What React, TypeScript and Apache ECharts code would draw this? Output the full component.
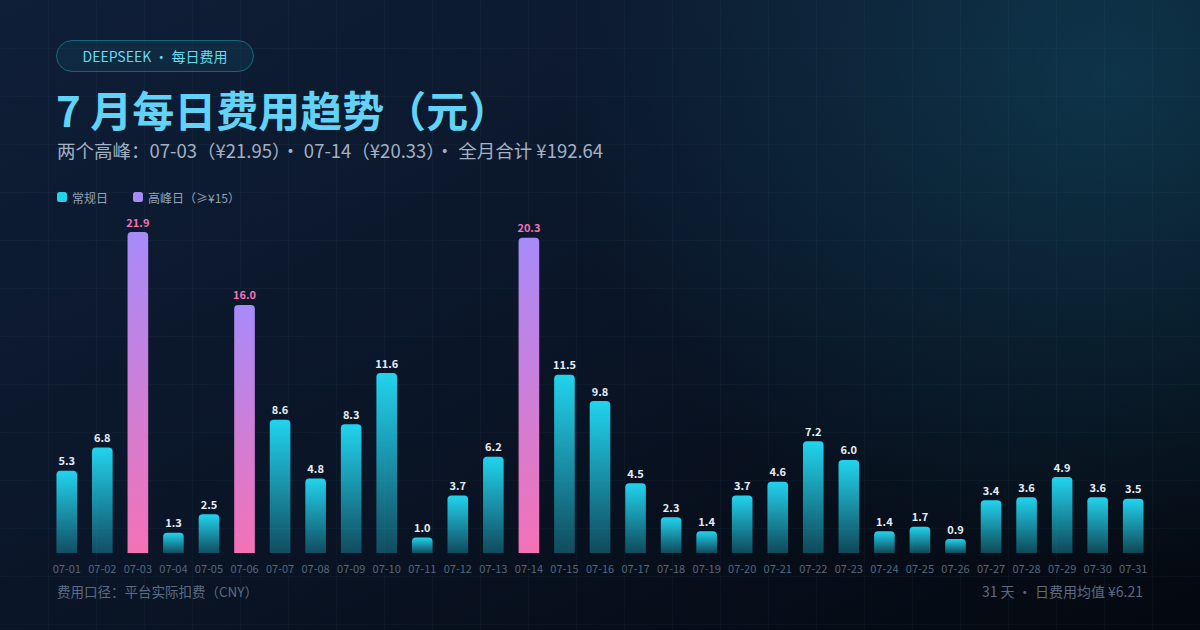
import { useEffect, useRef } from 'react';
import * as echarts from 'echarts';

const days = [
    '07-01', '07-02', '07-03', '07-04', '07-05', '07-06', '07-07', '07-08',
    '07-09', '07-10', '07-11', '07-12', '07-13', '07-14', '07-15', '07-16',
    '07-17', '07-18', '07-19', '07-20', '07-21', '07-22', '07-23', '07-24',
    '07-25', '07-26', '07-27', '07-28', '07-29', '07-30', '07-31',
];

// daily cost in CNY
const costs = [
    5.3, 6.8, 21.95, 1.3, 2.5, 16.0, 8.6, 4.8,
    8.3, 11.6, 1.0, 3.7, 6.2, 20.33, 11.5, 9.8,
    4.5, 2.3, 1.4, 3.7, 4.6, 7.2, 6.0, 1.4,
    1.7, 0.9, 3.4, 3.6, 4.9, 3.6, 3.5,
];

const peakLimit = 15;
const yMax = 20.7;

const seriesNames = ['常规日', '高峰日（≥¥15）'];
const badgeText = 'DEEPSEEK · 每日费用';
const titleText = '7 月每日费用趋势（元）';
const subtitleText = '两个高峰：07-03（¥21.95）· 07-14（¥20.33）· 全月合计 ¥192.64';
const footLeft = '费用口径：平台实际扣费（CNY）';
const footRight = '31 天 · 日费用均值 ¥6.21';

const FONT = '"Noto Sans CJK SC", "Noto Sans", sans-serif';

export default function App() {
    const chartRef = useRef<HTMLDivElement>(null);

    useEffect(() => {
        document.body.style.margin = '0';
        if (!chartRef.current) return;
        const chart = echarts.init(chartRef.current, undefined, { renderer: 'svg' });

        const normal = costs.map((v) => (v < peakLimit ? v : null));
        const peak = costs.map((v) => (v >= peakLimit ? v : null));

        // faint background grid
        const gridLines: any[] = [];
        for (let x = 48; x < 1200; x += 48) {
            gridLines.push({
                type: 'line', silent: true,
                shape: { x1: x + 0.5, y1: 0, x2: x + 0.5, y2: 630 },
                style: { stroke: 'rgba(140, 190, 230, 0.035)', lineWidth: 1 },
            });
        }
        for (let y = 48; y < 630; y += 48) {
            gridLines.push({
                type: 'line', silent: true,
                shape: { x1: 0, y1: y + 0.5, x2: 1200, y2: y + 0.5 },
                style: { stroke: 'rgba(140, 190, 230, 0.035)', lineWidth: 1 },
            });
        }

        const labelFmt = (p: any) => (p.value == null ? '' : Number(p.value).toFixed(1));

        chart.setOption({
            animation: false,
            backgroundColor: new echarts.graphic.LinearGradient(0, 0, 1, 1, [
                { offset: 0, color: '#0f1f38' },
                { offset: 0.5, color: '#0a1527' },
                { offset: 1, color: '#04080f' },
            ]),
            textStyle: { fontFamily: FONT },
            graphic: [
                {
                    type: 'rect', silent: true, z: -10,
                    shape: { x: 560, y: -420, width: 1100, height: 1000 },
                    style: {
                        fill: new echarts.graphic.RadialGradient(0.5, 0.5, 0.5, [
                            { offset: 0, color: 'rgba(20, 96, 122, 0.42)' },
                            { offset: 0.45, color: 'rgba(20, 96, 122, 0.22)' },
                            { offset: 1, color: 'rgba(20, 96, 122, 0)' },
                        ]),
                    },
                },
                { type: 'group', z: -9, silent: true, children: gridLines },
                {
                    type: 'rect',
                    shape: { x: 56.5, y: 40.5, width: 197, height: 31, r: 15.5 },
                    style: {
                        fill: 'rgba(34, 211, 238, 0.07)',
                        stroke: 'rgba(34, 211, 238, 0.38)',
                        lineWidth: 1,
                    },
                },
                {
                    type: 'text', x: 155, y: 56,
                    style: {
                        text: badgeText, fill: '#67dcef', fontSize: 14,
                        fontFamily: FONT, align: 'center', verticalAlign: 'middle',
                    },
                },
                {
                    type: 'text', x: 56, y: 108,
                    style: {
                        text: titleText, fill: '#62d2f6',
                        fontSize: 42, fontWeight: 'bold', fontFamily: FONT,
                        verticalAlign: 'middle',
                    },
                },
                {
                    type: 'text', x: 57, y: 150,
                    style: {
                        text: subtitleText, fill: '#a3b1c4', fontSize: 18.5,
                        fontFamily: FONT, verticalAlign: 'middle',
                    },
                },
                {
                    type: 'text', x: 57, y: 591,
                    style: {
                        text: footLeft, fill: '#5c6b81', fontSize: 13.5,
                        fontFamily: FONT, verticalAlign: 'middle',
                    },
                },
                {
                    type: 'text', x: 1143, y: 591,
                    style: {
                        text: footRight, fill: '#5c6b81', fontSize: 14,
                        fontFamily: FONT, align: 'right', verticalAlign: 'middle',
                    },
                },
            ],
            legend: {
                left: 52,
                top: 186,
                itemWidth: 10,
                itemHeight: 10,
                itemGap: 25,
                icon: 'roundRect',
                textStyle: { color: '#93a3b8', fontSize: 12, fontFamily: FONT },
                data: [
                    { name: seriesNames[0], itemStyle: { color: '#22d3ee' } },
                    { name: seriesNames[1], itemStyle: { color: '#a78bfa' } },
                ],
            },
            grid: { left: 49, right: 49, top: 232, bottom: 77 },
            xAxis: {
                type: 'category',
                data: days,
                axisLine: { show: false },
                axisTick: { show: false },
                axisLabel: {
                    color: '#56667d', fontSize: 11, margin: 9,
                    interval: 0, fontFamily: FONT,
                },
            },
            yAxis: {
                type: 'value',
                min: 0,
                max: yMax,
                show: false,
                splitLine: { show: false },
            },
            series: [
                {
                    name: seriesNames[0],
                    type: 'bar',
                    data: normal,
                    barWidth: '58%',
                    barGap: '-100%',
                    itemStyle: {
                        borderRadius: [4, 4, 0, 0],
                        color: new echarts.graphic.LinearGradient(0, 0, 0, 1, [
                            { offset: 0, color: '#22d3ee' },
                            { offset: 1, color: 'rgba(34, 211, 238, 0.3)' },
                        ]),
                    },
                    label: {
                        show: true, position: 'top', distance: 5,
                        color: '#e6edf5', fontSize: 11, fontWeight: 'bold',
                        fontFamily: FONT, formatter: labelFmt,
                    },
                },
                {
                    name: seriesNames[1],
                    type: 'bar',
                    data: peak,
                    barWidth: '58%',
                    barGap: '-100%',
                    itemStyle: {
                        borderRadius: [4, 4, 0, 0],
                        color: new echarts.graphic.LinearGradient(0, 0, 0, 1, [
                            { offset: 0, color: '#a78bfa' },
                            { offset: 1, color: '#f472b6' },
                        ]),
                    },
                    label: {
                        show: true, position: 'top', distance: 5,
                        color: '#f472b6', fontSize: 11, fontWeight: 'bold',
                        fontFamily: FONT, formatter: labelFmt,
                    },
                },
            ],
        });

        return () => {
            chart.dispose();
        };
    }, []);

    return (
        <div
            ref={chartRef}
            style={{ position: 'fixed', left: 0, top: 0, width: 1200, height: 630 }}
        />
    );
}
